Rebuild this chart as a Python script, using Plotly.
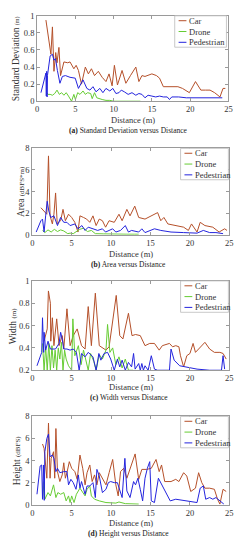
import plotly.graph_objects as go

W, H = 248, 550

# ---------------- data ----------------
series_names = ["Car", "Drone", "Pedestrian"]
series_colors = ["#B5502A", "#66CC33", "#2424DD"]

# (a) Standard deviation (m)
std_car_x = [1.15, 1.5, 1.8, 2.0, 2.2, 2.43, 2.6, 2.85, 3.06, 3.5, 4.0, 4.3, 4.8, 5.1, 5.4, 5.8, 6.3, 6.7, 7.1, 7.5, 8.0, 8.5, 9.0, 9.4, 9.8, 10.1, 10.5, 11.1, 11.6, 12.2, 12.9, 13.3, 13.7, 14.1, 15.0, 15.6, 16.0, 16.5, 17.5, 18.4, 19.0, 19.9, 20.7, 21.4, 22.0, 22.6, 23.2, 23.9, 24.3, 24.6]
std_car_y = [0.95, 0.75, 0.55, 0.87, 0.35, 0.57, 0.45, 0.63, 0.3, 0.46, 0.45, 0.46, 0.38, 0.42, 0.36, 0.2, 0.4, 0.32, 0.38, 0.3, 0.35, 0.28, 0.23, 0.32, 0.18, 0.42, 0.19, 0.36, 0.21, 0.3, 0.40, 0.23, 0.3, 0.29, 0.32, 0.3, 0.27, 0.17, 0.17, 0.17, 0.15, 0.1, 0.23, 0.13, 0.13, 0.13, 0.1, 0.05, 0.15, 0.15]
std_drone_x = [1.3, 1.4, 1.7, 2.0, 2.3, 2.6, 2.9, 3.2, 3.5, 3.8, 4.1, 4.5, 4.8, 5.0, 5.3, 5.6, 6.0, 6.3, 6.6, 7.0, 7.2, 7.5, 7.8, 8.1, 8.5, 9.0, 9.5, 10.0, 11.0, 12.0, 13.0, 13.5]
std_drone_y = [0.1, 0.08, 0.08, 0.07, 0.09, 0.13, 0.08, 0.1, 0.07, 0.1, 0.06, 0.0, 0.08, 0.02, 0.1, 0.08, 0.12, 0.08, 0.1, 0.09, 0.03, 0.1, 0.04, 0.03, 0.02, 0.01, 0.01, 0.0, 0.0, 0.0, 0.0, 0.0]
std_ped_x = [0.5, 0.95, 1.15, 1.2, 1.25, 1.3, 1.35, 1.7, 2.0, 2.2, 2.4, 2.65, 2.98, 3.3, 3.7, 4.3, 4.98, 5.4, 6.0, 6.5, 6.9, 7.3, 7.7, 8.2, 8.6, 9.0, 9.5, 9.9, 10.3, 10.7, 11.0, 11.4, 11.9, 12.4, 12.9, 13.3, 13.7, 14.1, 14.5, 15.0, 15.5, 16.0, 16.5, 17.0, 17.3, 17.6, 18.5, 19.5, 20.5, 21.5, 22.5, 23.5, 24.2]
std_ped_y = [0.1, 0.25, 0.33, 0.06, 0.35, 0.05, 0.3, 0.53, 0.55, 0.48, 0.5, 0.36, 0.21, 0.29, 0.3, 0.28, 0.27, 0.15, 0.25, 0.15, 0.13, 0.17, 0.11, 0.15, 0.1, 0.15, 0.12, 0.15, 0.09, 0.1, 0.13, 0.11, 0.08, 0.1, 0.07, 0.09, 0.08, 0.04, 0.07, 0.06, 0.05, 0.06, 0.05, 0.05, 0.02, 0.05, 0.05, 0.04, 0.04, 0.04, 0.04, 0.04, 0.04]

# (b) Area (dBFS*m)
area_car_x = [1.1, 1.5, 1.85, 2.06, 2.26, 2.55, 2.75, 2.96, 3.17, 3.6, 3.9, 4.2, 4.6, 5.0, 5.4, 5.8, 6.05, 6.5, 6.9, 7.3, 7.7, 8.1, 8.5, 8.9, 9.3, 9.75, 10.4, 11.0, 11.4, 12.0, 12.4, 13.0, 13.5, 14.3, 15.1, 15.9, 16.3, 16.7, 17.2, 18.4, 19.2, 19.8, 20.2, 20.9, 21.3, 21.9, 22.9, 23.7, 24.4, 24.7]
area_car_y = [2.5, 2.2, 1.9, 7.3, 1.75, 1.0, 1.9, 3.87, 1.0, 1.3, 2.35, 1.3, 1.9, 1.6, 1.15, 0.25, 1.75, 1.6, 1.45, 1.15, 1.75, 0.85, 1.45, 1.3, 0.7, 1.3, 1.15, 1.9, 1.3, 2.35, 1.75, 2.65, 1.6, 1.45, 1.75, 2.05, 1.3, 1.6, 1.0, 0.85, 0.7, 0.4, 1.0, 0.25, 1.15, 0.85, 0.7, 0.25, 0.55, 0.4]
area_drone_x = [1.3, 1.6, 2.0, 2.4, 2.8, 3.2, 3.6, 4.0, 4.5, 4.8, 5.2, 5.6, 6.0, 6.5, 7.0, 7.5, 8.0, 9.0, 10.0, 11.0, 12.0, 13.0, 13.5]
area_drone_y = [0.4, 0.2, 0.45, 0.25, 0.5, 0.3, 0.45, 0.35, 0.1, 0.15, 0.1, 0.3, 0.5, 0.6, 0.3, 0.4, 0.1, 0.08, 0.05, 0.05, 0.05, 0.05, 0.05]
area_ped_x = [0.5, 1.1, 1.3, 1.5, 1.7, 1.9, 2.1, 2.35, 2.75, 3.2, 3.6, 4.0, 4.4, 4.8, 5.4, 5.8, 6.3, 6.7, 7.1, 7.7, 8.3, 8.9, 9.3, 10.2, 10.6, 11.2, 11.8, 12.2, 12.6, 13.5, 13.9, 14.3, 14.9, 15.5, 16.3, 17.6, 19.2, 20.9, 21.7, 22.5, 23.3, 24.2]
area_ped_y = [0.25, 1.3, 1.45, 0.25, 1.75, 3.1, 2.2, 1.6, 1.75, 0.85, 1.6, 1.15, 1.15, 0.85, 1.0, 0.55, 0.85, 0.4, 0.7, 0.55, 0.4, 0.55, 0.25, 0.55, 0.25, 0.4, 0.85, 0.25, 0.4, 0.25, 0.55, 0.2, 0.4, 0.55, 0.4, 0.25, 0.2, 0.15, 0.4, 0.2, 0.2, 0.1]

# (c) Width (m)
width_car_x = [1.5, 1.9, 2.05, 2.3, 2.35, 2.55, 2.75, 3.1, 3.4, 3.8, 4.0, 4.4, 4.8, 5.2, 5.7, 6.25, 6.7, 7.1, 7.5, 8.0, 8.5, 9.35, 9.75, 10.2, 10.65, 11.1, 11.5, 12.2, 12.65, 13.1, 13.7, 14.3, 14.9, 15.5, 16.1, 16.5, 17.4, 17.8, 18.2, 18.6, 18.8, 19.2, 19.6, 20.0, 20.4, 20.7, 21.1, 21.9, 22.5, 23.1, 23.8, 24.2, 24.6]
width_car_y = [0.46, 0.57, 0.91, 0.8, 0.46, 0.67, 0.42, 0.66, 0.42, 0.51, 0.39, 0.75, 0.42, 0.51, 0.57, 0.42, 0.39, 0.77, 0.42, 0.89, 0.42, 0.38, 0.41, 0.64, 0.87, 0.51, 0.48, 0.71, 0.51, 0.52, 0.51, 0.42, 0.44, 0.44, 0.38, 0.42, 0.44, 0.41, 0.42, 0.41, 0.33, 0.23, 0.33, 0.35, 0.44, 0.36, 0.39, 0.45, 0.39, 0.36, 0.36, 0.35, 0.3]
width_drone_x = [1.3, 1.5, 1.7, 1.9, 2.1, 2.3, 2.5, 2.7, 2.9, 3.1, 3.3, 3.5, 3.7, 3.9, 4.1, 4.3, 4.6, 5.0, 5.15, 5.4, 5.85, 6.2, 6.5, 6.8, 7.1, 7.4, 7.8, 8.1, 8.5, 8.9, 9.35, 9.55, 9.85, 10.2, 10.6, 11.0, 11.4, 11.8, 12.2, 12.8]
width_drone_y = [0.44, 0.2, 0.41, 0.2, 0.44, 0.2, 0.42, 0.22, 0.38, 0.2, 0.4, 0.3, 0.45, 0.2, 0.38, 0.3, 0.24, 0.2, 0.66, 0.33, 0.42, 0.25, 0.38, 0.3, 0.2, 0.35, 0.28, 0.2, 0.34, 0.3, 0.38, 0.61, 0.36, 0.4, 0.25, 0.32, 0.22, 0.3, 0.2, 0.2]
width_ped_x = [0.6, 1.2, 1.3, 1.45, 1.5, 1.7, 2.0, 2.3, 2.55, 2.95, 3.4, 3.6, 3.8, 4.0, 4.4, 4.8, 5.2, 5.6, 5.95, 6.25, 6.7, 7.1, 7.7, 8.1, 8.45, 8.7, 9.1, 9.55, 9.95, 10.4, 10.8, 11.1, 11.4, 11.8, 12.2, 12.6, 12.85, 13.05, 13.5, 13.7, 13.9, 14.1, 14.3, 14.7, 15.1, 15.5, 15.9, 17.4, 17.6, 18.0, 18.7, 19.6, 20.9, 22.5, 24.0, 24.2, 24.4]
width_ped_y = [0.24, 0.36, 0.67, 0.36, 0.54, 0.38, 0.46, 0.39, 0.39, 0.39, 0.44, 0.54, 0.48, 0.39, 0.39, 0.38, 0.39, 0.36, 0.2, 0.35, 0.32, 0.36, 0.32, 0.2, 0.35, 0.29, 0.35, 0.36, 0.3, 0.2, 0.3, 0.23, 0.29, 0.2, 0.27, 0.23, 0.35, 0.21, 0.26, 0.2, 0.26, 0.2, 0.24, 0.2, 0.33, 0.21, 0.2, 0.2, 0.39, 0.29, 0.24, 0.23, 0.21, 0.2, 0.2, 0.33, 0.21]

# (d) Height (dBFS)
height_car_x = [1.3, 1.5, 1.85, 2.06, 2.26, 2.4, 2.55, 2.7, 2.85, 3.0, 3.2, 3.5, 3.8, 4.0, 4.2, 4.4, 4.7, 5.0, 5.4, 5.7, 6.05, 6.4, 6.7, 6.95, 7.3, 7.6, 7.9, 8.2, 8.5, 8.9, 9.35, 9.75, 10.2, 10.6, 10.9, 11.2, 11.6, 12.0, 12.4, 13.05, 13.5, 13.9, 14.5, 15.1, 15.7, 16.1, 16.4, 16.8, 17.6, 18.2, 18.6, 19.2, 19.6, 20.1, 20.7, 21.1, 21.5, 21.9, 22.5, 23.1, 23.5, 23.8, 24.2, 24.6]
height_car_y = [5.5, 5.1, 2.4, 7.4, 2.4, 4.2, 4.5, 4.8, 2.4, 6.9, 3.0, 2.1, 2.7, 3.8, 2.4, 2.9, 3.9, 3.3, 3.0, 2.3, 4.5, 3.3, 1.8, 2.9, 3.6, 2.1, 2.7, 1.8, 2.9, 2.4, 1.8, 2.9, 4.1, 1.8, 0.8, 3.0, 3.3, 2.4, 3.3, 4.6, 2.3, 3.2, 3.2, 3.3, 4.1, 3.0, 3.6, 2.1, 2.1, 2.3, 2.1, 2.9, 2.6, 1.2, 1.5, 2.9, 2.0, 1.5, 1.5, 1.4, 0.5, 0.06, 1.4, 1.2]
height_drone_x = [1.3, 1.5, 1.6, 2.0, 2.3, 2.7, 3.0, 3.25, 3.6, 4.0, 4.3, 4.6, 4.8, 5.0, 5.3, 5.6, 6.05, 6.25, 6.7, 6.95, 7.3, 7.5, 7.9, 8.5, 9.35, 10.6, 11.0, 11.8, 13.5]
height_drone_y = [0.5, 2.1, 0.5, 1.1, 0.8, 1.8, 0.65, 1.1, 0.95, 1.1, 0.35, 0.8, 0.2, 0.8, 0.2, 0.95, 1.5, 1.25, 0.8, 1.4, 1.7, 0.8, 0.5, 0.35, 0.2, 0.15, 0.25, 0.1, 0.06]
height_ped_x = [0.6, 1.0, 1.2, 1.3, 1.45, 1.52, 1.6, 1.85, 2.06, 2.26, 2.55, 2.75, 3.0, 3.2, 3.5, 4.0, 4.4, 4.6, 4.9, 5.2, 5.55, 5.85, 6.05, 6.25, 6.7, 6.95, 7.3, 7.7, 8.0, 8.2, 8.5, 8.9, 9.35, 9.65, 9.95, 10.4, 10.8, 11.1, 11.4, 11.75, 12.0, 12.4, 12.85, 13.1, 13.4, 13.7, 14.0, 14.3, 14.6, 14.9, 15.1, 15.5, 16.0, 17.5, 18.2, 20.9, 21.3, 21.7, 22.0, 22.5, 22.9, 23.3, 23.8, 24.3]
height_ped_y = [0.95, 3.5, 3.6, 0.5, 3.6, 0.4, 4.8, 6.0, 6.4, 4.35, 4.5, 4.2, 3.0, 3.3, 2.9, 3.0, 3.0, 1.8, 2.3, 2.0, 1.4, 2.7, 1.5, 2.1, 0.95, 1.7, 1.7, 2.0, 0.65, 3.2, 2.6, 1.1, 1.4, 2.0, 2.1, 2.0, 2.0, 1.25, 0.65, 4.2, 1.25, 0.65, 2.1, 1.8, 2.4, 1.4, 0.35, 2.4, 3.3, 3.9, 0.35, 0.2, 2.4, 0.35, 0.5, 0.2, 1.5, 1.7, 0.5, 0.65, 0.5, 0.65, 0.35, 0.06]

panels = [
    dict(data=[(std_car_x, std_car_y), (std_drone_x, std_drone_y), (std_ped_x, std_ped_y)],
         yrange=[0, 1], ytick=[0, 0.2, 0.4, 0.6, 0.8, 1],
         ylabel="Standard Deviation <span style='font-size:6px'>(m)</span>",
         caption="<b>(a)</b> Standard Deviation versus Distance",
         px=(36, 232, 11, 98), ylab_x=14, xlab_y=117, cap_y=128, leg=(177, 230, 11, 43)),
    dict(data=[(area_car_x, area_car_y), (area_drone_x, area_drone_y), (area_ped_x, area_ped_y)],
         yrange=[0, 8], ytick=[0, 2, 4, 6, 8],
         ylabel="Area <span style='font-size:7px'>(dBFS*m)</span>",
         caption="<b>(b)</b> Area versus Distance",
         px=(31, 233, 146, 234), ylab_x=19, xlab_y=253.5, cap_y=264.5, leg=(183, 232, 146, 178)),
    dict(data=[(width_car_x, width_car_y), (width_drone_x, width_drone_y), (width_ped_x, width_ped_y)],
         yrange=[0.2, 1], ytick=[0.2, 0.4, 0.6, 0.8, 1],
         ylabel="Width <span style='font-size:7px'>(m)</span>",
         caption="<b>(c)</b> Width versus Distance",
         px=(31, 233, 281, 372), ylab_x=11, xlab_y=389.5, cap_y=399.5, leg=(183, 232, 281, 313)),
    dict(data=[(height_car_x, height_car_y), (height_drone_x, height_drone_y), (height_ped_x, height_ped_y)],
         yrange=[0, 8], ytick=[0, 2, 4, 6, 8],
         ylabel="Height <span style='font-size:7px'>(dBFS)</span>",
         caption="<b>(d)</b> Height versus Distance",
         px=(31, 233, 419, 509), ylab_x=15, xlab_y=527.5, cap_y=538.5, leg=(183, 232, 419, 451)),
]

FONT = "Liberation Serif"
fig = go.Figure()

def px2x(p):
    return p / W

def px2y(p):
    return 1 - p / H

def note(text, xp, yp, size, color="#333", angle=0, xanchor="center"):
    return dict(text=text, x=px2x(xp), y=px2y(yp), xref="paper", yref="paper",
                xanchor=xanchor, yanchor="middle", textangle=angle, showarrow=False,
                font=dict(family=FONT, size=size, color=color))

annotations = []
shapes = []
layout = {}
for i, p in enumerate(panels):
    n = "" if i == 0 else str(i + 1)
    xa, ya = "x" + n, "y" + n
    x0, x1, y0, y1 = p["px"]
    for (xs, ys), name, col in zip(p["data"], series_names, series_colors):
        fig.add_trace(go.Scatter(x=xs, y=ys, mode="lines", name=name, xaxis=xa, yaxis=ya,
                                 line=dict(color=col, width=1), showlegend=False,
                                 hoverinfo="skip"))
    common = dict(showgrid=False, zeroline=False, showline=True, linecolor="#9a9a9a", linewidth=1,
                  mirror="ticks", ticks="inside", ticklen=3, tickcolor="#9a9a9a",
                  tickfont=dict(family=FONT, size=8.5, color="#333"), fixedrange=True)
    layout["xaxis" + n] = dict(common, domain=[px2x(x0), px2x(x1)], range=[0, 25],
                               tickvals=[0, 5, 10, 15, 20, 25], anchor=ya)
    layout["yaxis" + n] = dict(common, domain=[px2y(y1), px2y(y0)], range=p["yrange"],
                               tickvals=p["ytick"], anchor=xa)
    annotations.append(note(p["ylabel"], p["ylab_x"], (y0 + y1) / 2, 9.5, angle=-90))
    annotations.append(note("Distance (m)", (x0 + x1) / 2, p["xlab_y"], 8.5))
    annotations.append(note(p["caption"], 130, p["cap_y"], 7.5, color="#222"))
    lx0, lx1, ly0, ly1 = p["leg"]
    shapes.append(dict(type="rect", xref="paper", yref="paper", x0=px2x(lx0), x1=px2x(lx1),
                       y0=px2y(ly1), y1=px2y(ly0), line=dict(color="#bbbbbb", width=0.8),
                       fillcolor="white"))
    for k, (name, col) in enumerate(zip(series_names, series_colors)):
        yy = ly0 + 5 + k * 11
        shapes.append(dict(type="line", xref="paper", yref="paper", x0=px2x(lx0 + 4),
                           x1=px2x(lx0 + 12), y0=px2y(yy), y1=px2y(yy),
                           line=dict(color=col, width=1)))
        annotations.append(note(name, lx0 + 13, yy, 8.5, xanchor="left"))

fig.update_layout(width=W, height=H, margin=dict(l=0, r=0, t=0, b=0), autosize=False,
                  paper_bgcolor="white", plot_bgcolor="white", showlegend=False,
                  annotations=annotations, shapes=shapes, **layout)
fig.write_html("out.html", config={"displayModeBar": False, "staticPlot": True},
               post_script="document.body.style.margin='0';document.body.style.padding='0';")
